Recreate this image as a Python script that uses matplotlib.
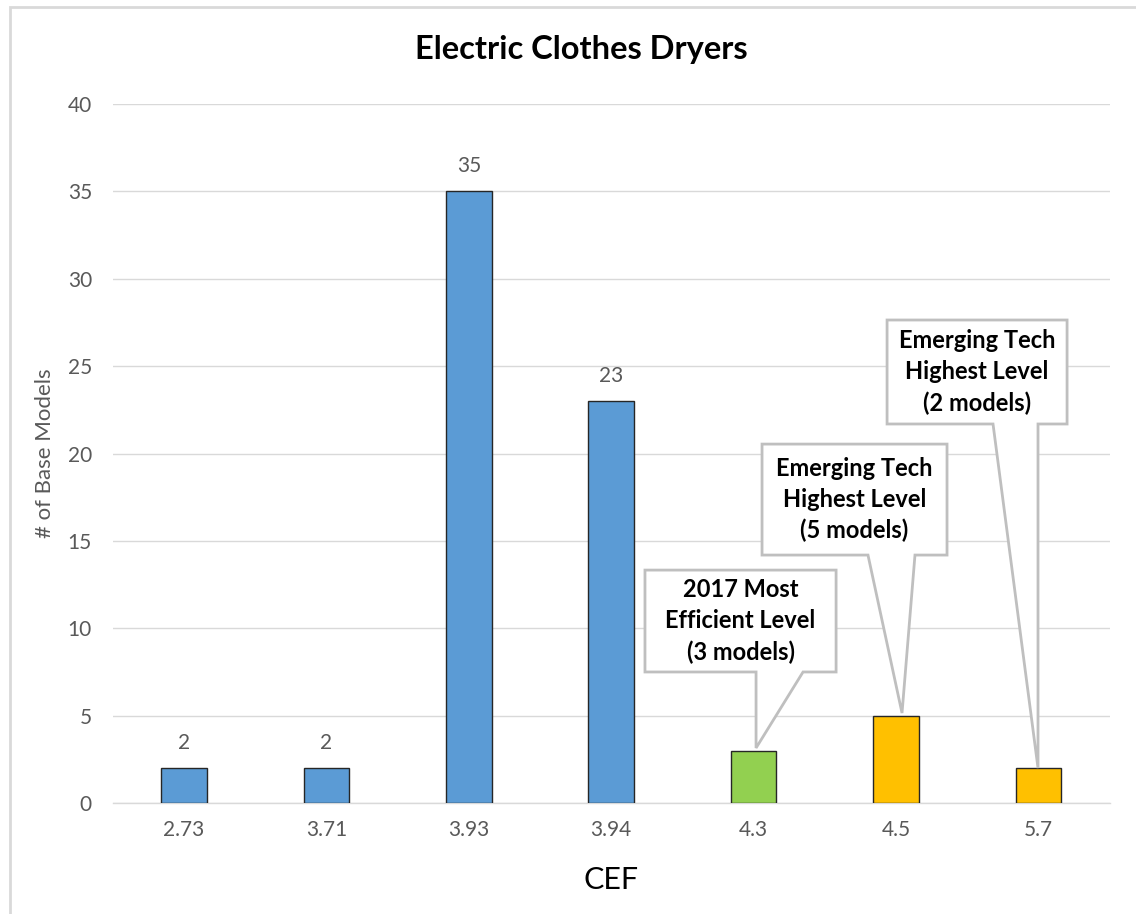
import matplotlib
matplotlib.use("Agg")
import matplotlib.pyplot as plt
from matplotlib.patches import Polygon, Rectangle

# Chart data
cef_labels = ["2.73", "3.71", "3.93", "3.94", "4.3", "4.5", "5.7"]
model_counts = [2, 2, 35, 23, 3, 5, 2]
bar_colors = ["#5B9BD5", "#5B9BD5", "#5B9BD5", "#5B9BD5", "#92D050", "#FFC000", "#FFC000"]
labelled_bars = [0, 1, 2, 3]

callout_texts = [
    "2017 Most\nEfficient Level\n(3 models)",
    "Emerging Tech\nHighest Level\n(5 models)",
    "Emerging Tech\nHighest Level\n(2 models)",
]
callout_targets = [4, 5, 6]
# box extents (x in category units, y in data units) and notch on bottom edge
callout_boxes = [
    (3.237, 4.579, 7.50, 13.33),
    (4.059, 5.358, 14.19, 20.54),
    (4.937, 6.201, 21.69, 27.64),
]
callout_notches = [
    (4.017, 4.347, 4.017),
    (4.803, 5.133, 5.042),
    (5.681, 5.997, 5.997),
]
callout_tip_gap = [0.15, 0.15, 0.0]

FONT = ["Lato", "DejaVu Sans"]
plt.rcParams["font.family"] = FONT

fig = plt.figure(figsize=(11.36, 9.14), dpi=100)
ax = fig.add_axes([0.0993, 0.1214, 0.8775, 0.7648])

x = list(range(len(cef_labels)))
ax.bar(x, model_counts, width=0.32, color=bar_colors, edgecolor="#262626",
       linewidth=1.0, zorder=3)

for i in labelled_bars:
    ax.text(i, model_counts[i] + 1.45, str(model_counts[i]), ha="center", va="center",
            fontsize=15, color="#595959")

ax.set_xlim(-0.5, 6.5)
ax.set_ylim(0, 40)
ax.set_yticks(range(0, 41, 5))
ax.set_xticks(x)
ax.set_xticklabels(cef_labels)
ax.tick_params(axis="both", length=0, labelsize=15, labelcolor="#595959")
ax.tick_params(axis="x", pad=12)
ax.tick_params(axis="y", pad=15)
ax.grid(axis="y", color="#d9d9d9", linewidth=1.0, zorder=0)
ax.set_axisbelow(True)
for side in ["top", "right", "left"]:
    ax.spines[side].set_visible(False)
ax.spines["bottom"].set_color("#d9d9d9")
ax.spines["bottom"].set_linewidth(1.0)

ax.set_xlabel("CEF", fontsize=22, color="#000000", labelpad=19)
ax.set_ylabel("# of Base Models", fontsize=16, color="#595959", labelpad=9)
fig.text(0.5114, 1 - 50 / 914, "Electric Clothes Dryers", ha="center", va="center",
         fontsize=23.5, fontweight="bold", color="#000000")

# Wedge-shaped callouts pointing at bar tops
for text, idx, box, notch, gap in zip(callout_texts, callout_targets, callout_boxes,
                                      callout_notches, callout_tip_gap):
    x0, x1, y0, y1 = box
    n0, n1, tipx = notch
    tip = (tipx, model_counts[idx] + gap)
    pts = [(x0, y1), (x1, y1), (x1, y0), (n1, y0), tip, (n0, y0), (x0, y0)]
    ax.add_patch(Polygon(pts, closed=True, facecolor="white", edgecolor="#bfbfbf",
                         linewidth=2.0, zorder=4, joinstyle="miter"))
    ax.text((x0 + x1) / 2, (y0 + y1) / 2, text, ha="center", va="center",
            fontsize=17, fontweight="bold", color="#000000", linespacing=1.42,
            zorder=5)

# Chart frame
fig.add_artist(Rectangle((10 / 1136, -0.1), 1.2, 1 - 7 / 914 + 0.1,
                         transform=fig.transFigure, fill=False,
                         edgecolor="#d9d9d9", linewidth=2.0))

fig.savefig("out.png", dpi=100, facecolor="white")
